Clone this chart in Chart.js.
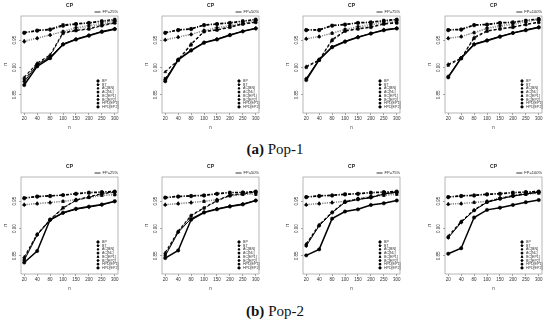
<!DOCTYPE html>
<html>
<head>
<meta charset="utf-8">
<script src="https://cdn.jsdelivr.net/npm/chart.js@4.4.1/dist/chart.umd.min.js"></script>
<style>
  body { margin: 0; background: #fff; }
  #fig { position: relative; width: 550px; height: 321px; overflow: hidden; }
  .panel { position: absolute; width: 126px; height: 135px; }
  .cap { position: absolute; left: 0; width: 550px; text-align: center;
         font-family: "Liberation Serif", serif; font-size: 15px; color: #111; }
</style>
</head>
<body>
<div id="fig">
  <div class="cap" style="top:141px"><b>(a)</b> Pop-1</div>
  <div class="cap" style="top:303px"><b>(b)</b> Pop-2</div>
</div>
<script>
// sample sizes on the x axis
const nLabels = ['20', '40', '80', '100', '150', '200', '250', '300']
const yTicks = [0.85, 0.90, 0.95]
const seriesNames = ['BP', 'BT', 'AC[BN]', 'AC[NL]', 'BC[EP1]', 'BC[EP2]', 'HPD[EP1]', 'HPD[EP2]']
const fpLabels = ['FP=25%', 'FP=50%', 'FP=75%', 'FP=100%']

// coverage probability, one row per series (order as seriesNames)
const pop1fp25 = [
    [0.868, 0.902, 0.917, 0.942, 0.951, 0.958, 0.965, 0.970],
    [0.874, 0.905, 0.919, 0.943, 0.952, 0.959, 0.966, 0.971],
    [0.882, 0.908, 0.923, 0.964, 0.968, 0.971, 0.977, 0.982],
    [0.878, 0.906, 0.921, 0.962, 0.967, 0.970, 0.976, 0.981],
    [0.949, 0.954, 0.960, 0.965, 0.971, 0.975, 0.979, 0.982],
    [0.947, 0.953, 0.959, 0.966, 0.973, 0.977, 0.981, 0.984],
    [0.964, 0.968, 0.970, 0.978, 0.980, 0.982, 0.985, 0.988],
    [0.963, 0.967, 0.969, 0.976, 0.979, 0.981, 0.984, 0.986]
]
const pop1fp50 = [
    [0.875, 0.914, 0.931, 0.945, 0.951, 0.959, 0.966, 0.971],
    [0.878, 0.915, 0.932, 0.946, 0.952, 0.960, 0.966, 0.972],
    [0.892, 0.914, 0.943, 0.966, 0.969, 0.974, 0.980, 0.983],
    [0.880, 0.913, 0.941, 0.965, 0.968, 0.973, 0.979, 0.982],
    [0.951, 0.956, 0.961, 0.967, 0.971, 0.975, 0.980, 0.985],
    [0.950, 0.955, 0.960, 0.968, 0.973, 0.977, 0.982, 0.986],
    [0.964, 0.969, 0.971, 0.978, 0.980, 0.982, 0.985, 0.988],
    [0.963, 0.968, 0.970, 0.977, 0.979, 0.981, 0.984, 0.987]
]
const pop1fp75 = [
    [0.877, 0.914, 0.937, 0.947, 0.955, 0.962, 0.968, 0.971],
    [0.880, 0.915, 0.938, 0.948, 0.956, 0.962, 0.969, 0.972],
    [0.902, 0.914, 0.951, 0.967, 0.971, 0.974, 0.980, 0.982],
    [0.900, 0.913, 0.949, 0.966, 0.970, 0.973, 0.979, 0.981],
    [0.953, 0.957, 0.962, 0.969, 0.973, 0.977, 0.982, 0.983],
    [0.952, 0.956, 0.963, 0.970, 0.975, 0.979, 0.983, 0.985],
    [0.969, 0.969, 0.977, 0.979, 0.982, 0.983, 0.986, 0.988],
    [0.968, 0.968, 0.976, 0.978, 0.981, 0.982, 0.985, 0.987]
]
const pop1fp100 = [
    [0.882, 0.917, 0.942, 0.949, 0.956, 0.963, 0.968, 0.973],
    [0.884, 0.918, 0.943, 0.950, 0.957, 0.963, 0.969, 0.974],
    [0.906, 0.917, 0.955, 0.967, 0.971, 0.974, 0.979, 0.983],
    [0.904, 0.916, 0.953, 0.966, 0.970, 0.973, 0.978, 0.982],
    [0.954, 0.957, 0.963, 0.971, 0.975, 0.978, 0.983, 0.988],
    [0.953, 0.956, 0.964, 0.972, 0.977, 0.980, 0.985, 0.986],
    [0.969, 0.970, 0.978, 0.979, 0.982, 0.983, 0.986, 0.989],
    [0.968, 0.969, 0.977, 0.978, 0.981, 0.982, 0.985, 0.988]
]
const pop2fp25 = [
    [0.838, 0.859, 0.916, 0.929, 0.936, 0.940, 0.944, 0.950],
    [0.842, 0.888, 0.915, 0.928, 0.935, 0.939, 0.943, 0.949],
    [0.848, 0.890, 0.916, 0.937, 0.952, 0.958, 0.964, 0.967],
    [0.845, 0.889, 0.917, 0.938, 0.951, 0.957, 0.963, 0.966],
    [0.944, 0.946, 0.948, 0.949, 0.952, 0.956, 0.960, 0.961],
    [0.943, 0.945, 0.947, 0.950, 0.953, 0.957, 0.961, 0.962],
    [0.956, 0.959, 0.960, 0.961, 0.964, 0.966, 0.967, 0.968],
    [0.955, 0.958, 0.959, 0.961, 0.963, 0.965, 0.966, 0.967]
]
const pop2fp50 = [
    [0.846, 0.860, 0.916, 0.929, 0.935, 0.940, 0.944, 0.951],
    [0.850, 0.893, 0.918, 0.930, 0.936, 0.941, 0.945, 0.951],
    [0.856, 0.895, 0.924, 0.938, 0.951, 0.961, 0.964, 0.967],
    [0.853, 0.894, 0.923, 0.937, 0.950, 0.960, 0.963, 0.966],
    [0.944, 0.946, 0.948, 0.949, 0.952, 0.959, 0.962, 0.962],
    [0.943, 0.945, 0.947, 0.950, 0.953, 0.960, 0.963, 0.963],
    [0.957, 0.959, 0.960, 0.961, 0.964, 0.966, 0.966, 0.968],
    [0.956, 0.958, 0.959, 0.960, 0.963, 0.965, 0.966, 0.967]
]
const pop2fp75 = [
    [0.851, 0.862, 0.918, 0.931, 0.935, 0.943, 0.946, 0.951],
    [0.868, 0.905, 0.929, 0.948, 0.953, 0.956, 0.963, 0.966],
    [0.872, 0.907, 0.930, 0.949, 0.954, 0.957, 0.964, 0.967],
    [0.870, 0.906, 0.929, 0.948, 0.953, 0.957, 0.963, 0.966],
    [0.944, 0.946, 0.948, 0.949, 0.954, 0.958, 0.960, 0.962],
    [0.943, 0.945, 0.947, 0.950, 0.955, 0.959, 0.961, 0.963],
    [0.958, 0.960, 0.961, 0.963, 0.964, 0.966, 0.967, 0.968],
    [0.957, 0.959, 0.960, 0.962, 0.963, 0.965, 0.966, 0.967]
]
const pop2fp100 = [
    [0.854, 0.864, 0.920, 0.934, 0.938, 0.943, 0.948, 0.952],
    [0.883, 0.911, 0.933, 0.948, 0.954, 0.959, 0.963, 0.966],
    [0.886, 0.913, 0.934, 0.949, 0.955, 0.960, 0.964, 0.967],
    [0.884, 0.912, 0.933, 0.948, 0.954, 0.959, 0.963, 0.966],
    [0.945, 0.946, 0.947, 0.949, 0.955, 0.960, 0.962, 0.964],
    [0.944, 0.945, 0.948, 0.950, 0.956, 0.961, 0.963, 0.965],
    [0.958, 0.960, 0.961, 0.963, 0.964, 0.966, 0.967, 0.968],
    [0.957, 0.959, 0.960, 0.962, 0.963, 0.965, 0.966, 0.967]
]

const panels = [
    { data: pop1fp25, fp: 0, left: 0, top: 0 },
    { data: pop1fp50, fp: 1, left: 141, top: 0 },
    { data: pop1fp75, fp: 2, left: 282, top: 0 },
    { data: pop1fp100, fp: 3, left: 424, top: 0 },
    { data: pop2fp25, fp: 0, left: 0, top: 161 },
    { data: pop2fp50, fp: 1, left: 141, top: 161 },
    { data: pop2fp75, fp: 2, left: 282, top: 161 },
    { data: pop2fp100, fp: 3, left: 424, top: 161 }
]

// line look per series
const styles = [
    { color: '#000', dash: [], width: 1.5, point: 'circle' },
    { color: '#000', dash: [], width: 1, point: 'rectRot' },
    { color: '#000', dash: [3, 2], width: 1.1, point: 'triangle' },
    { color: '#222', dash: [3, 2], width: 1, point: 'rect' },
    { color: '#888', dash: [1, 1.3], width: 1.1, point: 'triangle' },
    { color: '#888', dash: [1, 1.3], width: 1.1, point: 'rectRot' },
    { color: '#000', dash: [3, 1.5, 1, 1.5], width: 1.2, point: 'rect' },
    { color: '#000', dash: [3, 1.5, 1, 1.5], width: 1.2, point: 'circle' }
]

const FONT = '"Liberation Sans", Arial, sans-serif'

function drawMarker(ctx, style, x, y, r) {
    if (Chart.helpers && Chart.helpers.drawPoint) {
        Chart.helpers.drawPoint(ctx, { pointStyle: style, radius: r, rotation: 0, borderWidth: 0.5 }, x, y)
        ctx.fill()
    } else {
        ctx.beginPath()
        ctx.arc(x, y, r, 0, Math.PI * 2)
        ctx.fill()
    }
}

// R-style decorations: box, rotated y labels, titles and both legends
const rPlot = {
    id: 'rPlot',
    afterDraw(chart, args, opts) {
        const ctx = chart.ctx
        const a = chart.chartArea
        const mid = (a.left + a.right) / 2
        ctx.save()
        ctx.strokeStyle = '#999'
        ctx.lineWidth = 0.7
        ctx.setLineDash([])
        ctx.strokeRect(a.left, a.top, a.right - a.left, a.bottom - a.top)

        ctx.fillStyle = '#333'
        ctx.font = '4.5px ' + FONT
        ctx.textAlign = 'center'
        ctx.textBaseline = 'middle'
        const ys = chart.scales.y
        ys.ticks.forEach(t => {
            const py = ys.getPixelForValue(t.value)
            ctx.save()
            ctx.translate(a.left - 6, py)
            ctx.rotate(-Math.PI / 2)
            ctx.fillText(t.value.toFixed(2), 0, 0)
            ctx.restore()
        })
        ctx.save()
        ctx.translate(6, (a.top + a.bottom) / 2)
        ctx.rotate(-Math.PI / 2)
        ctx.fillText('π', 0, 0)
        ctx.restore()
        ctx.fillText('n', mid, a.bottom + 15)

        ctx.font = 'bold 5px ' + FONT
        ctx.fillStyle = '#222'
        ctx.fillText('CP', mid, 6)

        // FP legend above the box
        ctx.font = '4px ' + FONT
        ctx.textAlign = 'right'
        ctx.fillText(opts.fp, a.right, 12)
        const tw = ctx.measureText(opts.fp).width
        ctx.strokeStyle = '#000'
        ctx.lineWidth = 0.8
        ctx.beginPath()
        ctx.moveTo(a.right - tw - 8, 12)
        ctx.lineTo(a.right - tw - 2, 12)
        ctx.stroke()

        // series legend inside the box
        ctx.textAlign = 'left'
        ctx.font = '3.6px ' + FONT
        chart.data.datasets.forEach((ds, i) => {
            const y = a.top + 65 + i * 3.7
            ctx.fillStyle = '#000'
            ctx.strokeStyle = '#000'
            drawMarker(ctx, ds.pointStyle, a.right - 20, y, 1.2)
            ctx.fillStyle = '#333'
            ctx.fillText(ds.label, a.right - 16, y)
        })
        ctx.restore()
    }
}

const fig = document.getElementById('fig')
panels.forEach(p => {
    const div = document.createElement('div')
    div.className = 'panel'
    div.style.left = p.left + 'px'
    div.style.top = p.top + 'px'
    const cv = document.createElement('canvas')
    cv.width = 126
    cv.height = 135
    div.appendChild(cv)
    fig.appendChild(div)

    new Chart(cv, {
        type: 'line',
        data: {
            datasets: seriesNames.map((name, i) => ({
                label: name,
                data: p.data[i].map((v, k) => ({ x: k, y: v })),
                borderColor: styles[i].color,
                borderDash: styles[i].dash,
                borderWidth: styles[i].width,
                pointStyle: styles[i].point,
                pointRadius: 1.7,
                pointBackgroundColor: '#000',
                pointBorderColor: '#000',
                pointBorderWidth: 0.5,
                tension: 0
            }))
        },
        options: {
            responsive: false,
            animation: false,
            devicePixelRatio: 1,
            layout: { padding: { top: 16, right: 8, left: 0, bottom: 0 } },
            plugins: {
                legend: { display: false },
                title: { display: false },
                tooltip: { enabled: false },
                rPlot: { fp: fpLabels[p.fp] }
            },
            scales: {
                x: {
                    type: 'linear',
                    min: -0.25,
                    max: 7.25,
                    afterBuildTicks: s => { s.ticks = nLabels.map((l, k) => ({ value: k })) },
                    afterFit: s => { s.height = 22 },
                    grid: { drawOnChartArea: false, drawTicks: true, tickLength: 2, color: '#666', lineWidth: 0.6 },
                    border: { display: false },
                    ticks: {
                        autoSkip: false, maxRotation: 0, padding: 1,
                        color: '#333', font: { size: 4.5, family: FONT },
                        callback: v => nLabels[v]
                    }
                },
                y: {
                    min: 0.817,
                    max: 0.994,
                    afterBuildTicks: s => { s.ticks = yTicks.map(v => ({ value: v })) },
                    afterFit: s => { s.width = 21 },
                    grid: { drawOnChartArea: false, drawTicks: true, tickLength: 2, color: '#666', lineWidth: 0.6 },
                    border: { display: false },
                    ticks: { display: false }
                }
            }
        },
        plugins: [rPlot]
    })
})
</script>
</body>
</html>
